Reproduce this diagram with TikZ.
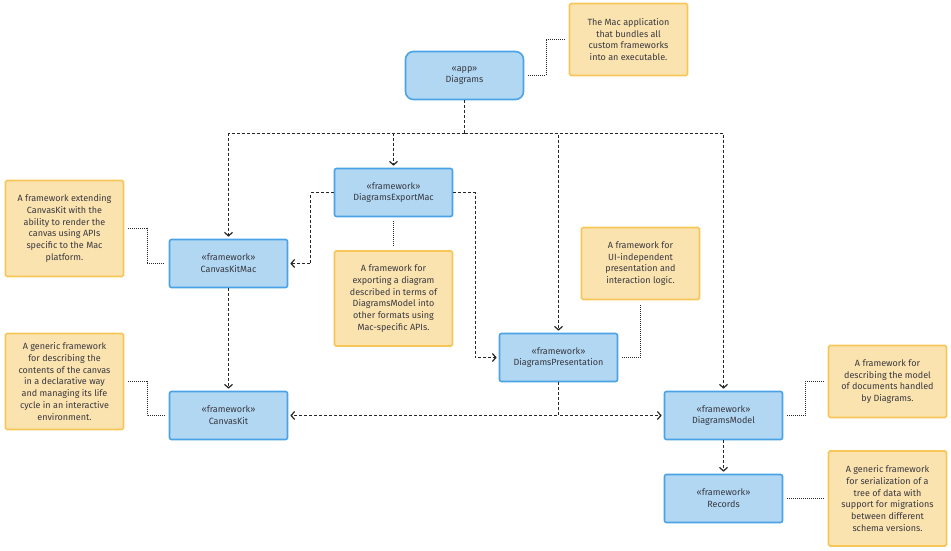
\documentclass[tikz,border=0pt]{standalone}
\usepackage{fontspec}
\setmainfont{Fira Sans}
\usetikzlibrary{arrows.meta}
\definecolor{unitfill}{HTML}{B1D7F3}
\definecolor{unitline}{HTML}{4AA3E6}
\definecolor{notefill}{HTML}{FBE3AF}
\definecolor{noteline}{HTML}{F6C658}
\definecolor{ink}{HTML}{38383F}

\begin{document}
\begin{tikzpicture}[x=1pt, y=-1pt,
		every node/.style={font=\fontsize{9}{11.7}\selectfont, text=ink, align=center},
		unit/.style={draw=unitline, line width=1.6pt, fill=unitfill, rounded corners=2pt, minimum width=118pt, minimum height=48pt, inner sep=0pt},
		app/.style={unit, rounded corners=8pt},
		note/.style={draw=noteline, line width=1.6pt, fill=notefill, rounded corners=1.5pt, minimum width=118pt, inner sep=0pt},
		dep/.style={draw=black!85, line width=1.2pt, dash pattern=on 3pt off 2pt, >={Straight Barb[length=3.5pt, width=8pt]}, shorten >=2pt},
		link/.style={draw=black!85, line width=1.2pt, dash pattern=on 1pt off 1pt, shorten >=4pt, shorten <=4pt}]
		\useasboundingbox (0, 0) rectangle (951, 551);
		\node[app] (app) at (464.5, 75.5) {«app»\\Diagrams};
		\node[note, minimum height=72pt] (appnote) at (628.5, 39.5) {The Mac application\\that bundles all\\custom frameworks\\into an executable.};
		\node[unit] (export) at (393.5, 192.5) {«framework»\\DiagramsExportMac};
		\node[note, minimum height=95pt] (exportnote) at (393.5, 298.5) {A framework for\\exporting a diagram\\described in terms of\\DiagramsModel into\\other formats using\\Mac-specific APIs.};
		\node[unit] (kitmac) at (228.5, 263.5) {«framework»\\CanvasKitMac};
		\node[note, minimum height=96pt] (kitmacnote) at (64.5, 228.5) {A framework extending\\CanvasKit with the\\ability to render the\\canvas using APIs\\specific to the Mac\\platform.};
		\node[unit] (kit) at (228.5, 415.5) {«framework»\\CanvasKit};
		\node[note, minimum height=96pt] (kitnote) at (64.5, 381.5) {A generic framework\\for describing the\\contents of the canvas\\in a declarative way\\and managing its life\\cycle in an interactive\\environment.};
		\node[unit] (pres) at (558.5, 357.5) {«framework»\\DiagramsPresentation};
		\node[note, minimum height=72pt] (presnote) at (640.5, 263.5) {A framework for\\UI-independent\\presentation and\\interaction logic.};
		\node[unit] (model) at (723.5, 415.5) {«framework»\\DiagramsModel};
		\node[note, minimum height=72pt] (modelnote) at (887.5, 381.5) {A framework for\\describing the model\\of documents handled\\by Diagrams.};
		\node[unit] (records) at (723.5, 498.5) {«framework»\\Records};
		\node[note, minimum height=95pt] (recordsnote) at (887.5, 498.5) {A generic framework\\for serialization of a\\tree of data with\\support for migrations\\between different\\schema versions.};
		\coordinate (bus) at (464.5, 133.5);
		\draw[dep, shorten >=0pt] (app.south) -- (bus);
		\draw[dep, ->] (bus) -| (kitmac.north);
		\draw[dep, ->] (bus) -| (export.north);
		\draw[dep, ->] (bus) -| (pres.north);
		\draw[dep, ->] (bus) -| (model.north);
		\draw[dep, ->] (export.west) -- ++(-23, 0) |- (kitmac.east);
		\draw[dep, ->] (export.east) -- ++(22, 0) |- (pres.west);
		\draw[dep, ->] (kitmac) -- (kit);
		\draw[dep, ->] (pres.south) |- (kit.east);
		\draw[dep, ->] (pres.south) |- (model.west);
		\draw[dep, ->] (model) -- (records);
		\draw[link] (app.east) -- ++(22, 0) |- (appnote.west);
		\draw[link] (kitmacnote.east) -- ++(23, 0) |- (kitmac.west);
		\draw[link] (kitnote.east) -- ++(23, 0) |- (kit.west);
		\draw[link] (exportnote.north) -- (export.south);
		\draw[link] (pres.east) -| (presnote.south);
		\draw[link] (model.east) -- ++(22, 0) |- (modelnote.west);
		\draw[link] (records.east) -- (recordsnote.west);
	\end{tikzpicture}
\end{document}
